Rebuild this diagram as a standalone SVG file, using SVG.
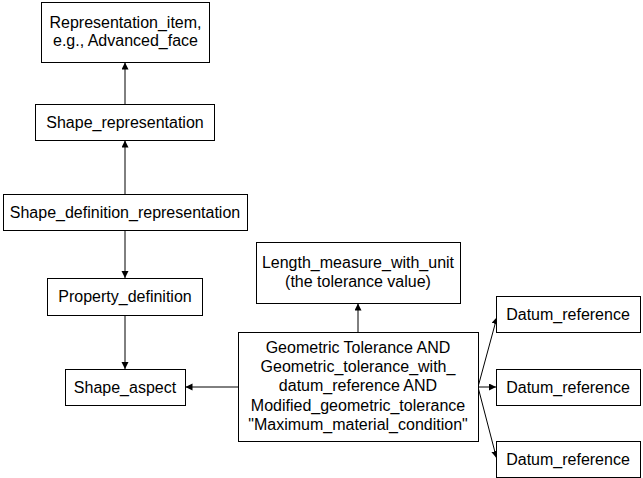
<svg xmlns="http://www.w3.org/2000/svg" width="643" height="478" viewBox="0 0 643 478">
<style>
.box{fill:#fff;stroke:#000;stroke-width:1}
.t{font-family:"Liberation Sans",Arial,sans-serif;font-size:16px;fill:#000;text-anchor:middle}
.c{stroke:#000;stroke-width:1;fill:none;marker-end:url(#ah)}
</style>
<defs>
<marker id="ah" markerUnits="userSpaceOnUse" markerWidth="8" markerHeight="8" refX="7" refY="3.5" orient="auto">
<path d="M0,0 L7,3.5 L0,7 z" fill="#000"/>
</marker>
</defs>
<rect width="643" height="478" fill="#fff"/>
<g id="connectors">
<line class="c" x1="125" y1="104" x2="125" y2="62.5"/>
<line class="c" x1="125" y1="194" x2="125" y2="140.5"/>
<line class="c" x1="125" y1="230" x2="125" y2="278"/>
<line class="c" x1="125" y1="315" x2="125" y2="369"/>
<line class="c" x1="238" y1="387" x2="185.5" y2="387"/>
<line class="c" x1="358" y1="332" x2="358" y2="303.5"/>
<line class="c" x1="478" y1="387" x2="497" y2="317"/>
<line class="c" x1="478" y1="387" x2="496" y2="387"/>
<line class="c" x1="478" y1="387" x2="496.5" y2="458"/>
</g>
<g id="representation_item">
<rect class="box" x="41.5" y="2.5" width="168" height="60"/>
<text class="t" x="125.5" y="27.5">Representation_item,</text>
<text class="t" x="125.5" y="46">e.g., Advanced_face</text>
</g>
<g id="shape_representation">
<rect class="box" x="35.5" y="104.5" width="179" height="36"/>
<text class="t" x="125" y="128">Shape_representation</text>
</g>
<g id="shape_definition_representation">
<rect class="box" x="3.5" y="194.5" width="244" height="36"/>
<text class="t" x="125" y="218">Shape_definition_representation</text>
</g>
<g id="property_definition">
<rect class="box" x="47.5" y="278.5" width="155" height="37"/>
<text class="t" x="125" y="302">Property_definition</text>
</g>
<g id="shape_aspect">
<rect class="box" x="65.5" y="369.5" width="120" height="36"/>
<text class="t" x="125" y="393">Shape_aspect</text>
</g>
<g id="length_measure_with_unit">
<rect class="box" x="256.5" y="242.5" width="204" height="61"/>
<text class="t" x="358" y="268">Length_measure_with_unit</text>
<text class="t" x="358" y="287">(the tolerance value)</text>
</g>
<g id="geometric_tolerance">
<rect class="box" x="238.5" y="332.5" width="240" height="109"/>
<text class="t" x="358" y="353">Geometric Tolerance AND</text>
<text class="t" x="358" y="372">Geometric_tolerance_with_</text>
<text class="t" x="358" y="391">datum_reference AND</text>
<text class="t" x="358" y="411">Modified_geometric_tolerance</text>
<text class="t" x="358" y="430">"Maximum_material_condition"</text>
</g>
<g id="datum_reference_1">
<rect class="box" x="496.5" y="296.5" width="144" height="36"/>
<text class="t" x="568" y="320">Datum_reference</text>
</g>
<g id="datum_reference_2">
<rect class="box" x="496.5" y="369.5" width="144" height="36"/>
<text class="t" x="568" y="393">Datum_reference</text>
</g>
<g id="datum_reference_3">
<rect class="box" x="496.5" y="441.5" width="144" height="36"/>
<text class="t" x="568" y="465">Datum_reference</text>
</g>
</svg>
